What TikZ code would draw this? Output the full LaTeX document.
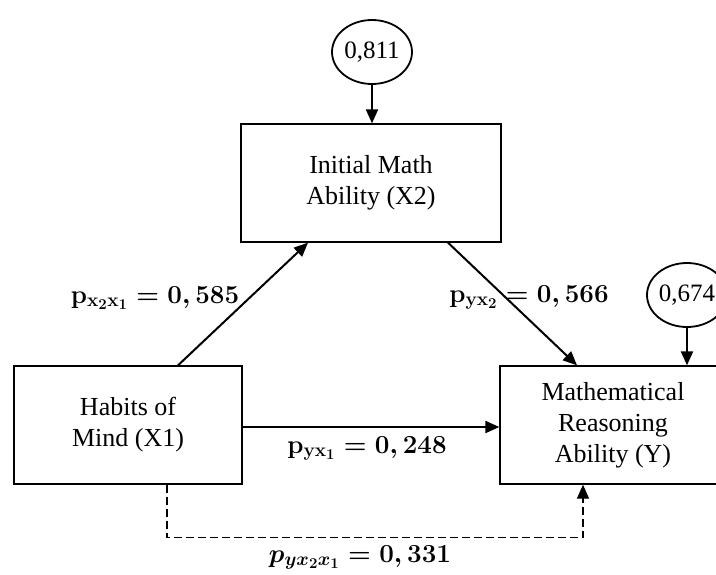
\RequirePackage{fix-cm}
\documentclass[tikz,border=0pt]{standalone}
\usepackage{amsmath}
\usepackage{fontspec}
\setmainfont{Liberation Serif}
\DeclareMathSizes{26}{26}{19}{15}
\usetikzlibrary{arrows.meta,calc,shapes.geometric}
\tikzset{
  varbox/.style={draw, line width=1.3pt, align=center, inner sep=0pt,
    font=\fontsize{26}{31}\selectfont},
  errell/.style={draw, ellipse, line width=1.8pt, inner sep=0pt,
    minimum width=80pt, minimum height=64pt, font=\fontsize{25}{30}\selectfont},
  arr/.style={line width=2pt, -{Triangle[length=14pt,width=12pt]}},
  darr/.style={line width=1.3pt, dash pattern=on 8pt off 4pt, -{Triangle[length=14pt,width=12pt]}},
  coef/.style={anchor=base, inner sep=0pt, font=\fontsize{26}{31}\selectfont\boldmath}
}
\begin{document}
\begin{tikzpicture}[x=1pt,y=-1pt]
\useasboundingbox (0,0) rectangle (716,574);
\node[varbox, minimum width=260pt, minimum height=118pt] (T) at (371,183) {Initial Math\\Ability (X2)};
\node[varbox, minimum width=228pt, minimum height=118pt] (L) at (128,425) {Habits of\\Mind (X1)};
\node[varbox, minimum width=226pt, minimum height=118pt] (R) at (613,425) {Mathematical\\Reasoning\\Ability (Y)};
\node[errell] (E1) at (372,52) {0,811};
\node[errell] (E2) at (687,295) {0,674};

\draw[arr] (E1.south) -- (T.north -| E1.south);
\draw[arr] (E2.south) -- (R.north -| E2.south);
\draw[arr] ([xshift=50pt]L.north) -- ([xshift=-63pt]T.south);
\draw[arr] ([xshift=77pt]T.south) -- ([xshift=-36pt]R.north);
\draw[arr] ([yshift=-2pt]L.east) -- ([yshift=-2pt]R.west);
\coordinate (D1) at ([xshift=39pt,yshift=-53pt]L.south);
\draw[darr] ([xshift=39pt]L.south) -- (D1) -| ([xshift=-30pt]R.south);

\node[coef] (c1) at (155,303) {$\mathbf{p}_{\mathbf{x_2x_1}} = 0,585$};
\node[coef] (c2) at (529,302) {$\mathbf{p}_{\mathbf{yx_2}} = 0,566$};
\node[coef] (c3) at (367,453) {$\mathbf{p}_{\mathbf{yx_1}} = 0,248$};
\node[coef] (c4) at (360,562) {$p_{yx_2x_1} = 0,331$};
\end{tikzpicture}
\end{document}
